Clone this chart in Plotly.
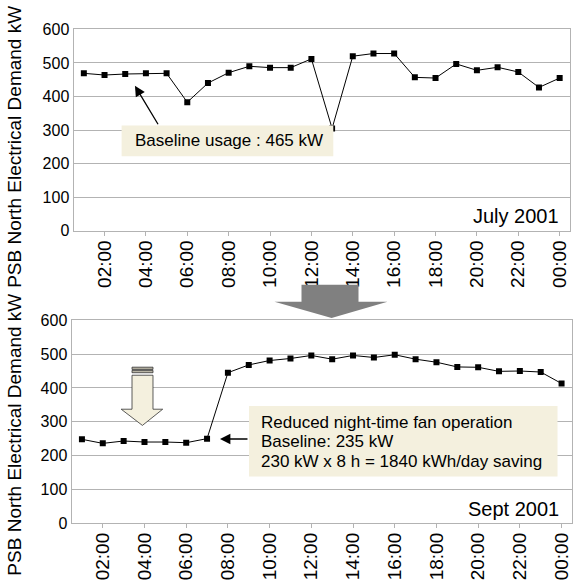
import plotly.graph_objects as go

W, H = 576, 581

hours = list(range(1, 25))
tick_vals = list(range(2, 25, 2))
tick_text = ["02:00", "04:00", "06:00", "08:00", "10:00", "12:00",
             "14:00", "16:00", "18:00", "20:00", "22:00", "00:00"]
july_kw = [469, 464, 467, 469, 469, 383, 440, 471, 490, 486, 486, 512,
           305, 520, 528, 528, 457, 455, 497, 478, 487, 473, 427, 455]
sept_kw = [248, 236, 243, 240, 240, 238, 250, 445, 468, 481, 487, 496,
           485, 496, 490, 498, 485, 476, 462, 461, 449, 450, 447, 413]
y_title = "PSB North Electrical Demand kW"


def px(x):
    return x / W


def py(y):
    return 1 - y / H


FONT = "Liberation Sans, Arial, sans-serif"
GRID = "#b3b3b3"
BEIGE = "#f4f0de"

fig = go.Figure()
fig.add_trace(go.Scatter(x=hours, y=july_kw, mode="lines+markers",
                         line=dict(color="black", width=1),
                         marker=dict(symbol="square", size=6, color="black"),
                         xaxis="x", yaxis="y", showlegend=False))
fig.add_trace(go.Scatter(x=hours, y=sept_kw, mode="lines+markers",
                         line=dict(color="black", width=1),
                         marker=dict(symbol="square", size=6, color="black"),
                         xaxis="x2", yaxis="y2", showlegend=False))

xcommon = dict(range=[0.5, 24.5], tickvals=tick_vals, ticktext=tick_text,
               tickangle=-90, ticks="outside", ticklen=4, tickcolor=GRID,
               ticklabelstandoff=-3,
               showgrid=False, showline=True, linecolor=GRID, mirror=True,
               zeroline=False, tickfont=dict(family=FONT, size=19, color="black"))
ycommon = dict(range=[0, 600], dtick=100, showgrid=True, gridcolor=GRID,
               showline=True, linecolor=GRID, mirror=True, zeroline=False,
               ticks="", tickfont=dict(family=FONT, size=16, color="black"))

fig.update_layout(
    width=W, height=H,
    margin=dict(l=0, r=0, t=0, b=0),
    paper_bgcolor="white", plot_bgcolor="white",
    xaxis=dict(domain=[px(73.5), px(570)], anchor="y", **xcommon),
    yaxis=dict(domain=[py(229.5), py(22)], anchor="x", **ycommon),
    xaxis2=dict(domain=[px(71.5), px(572)], anchor="y2", **xcommon),
    yaxis2=dict(domain=[py(530.7), py(321.7)], anchor="x2", **ycommon),
)

shapes = []
# annotation boxes
shapes.append(dict(type="rect", xref="paper", yref="paper", layer="above",
                   x0=px(121.6), x1=px(333.3), y0=py(152.7), y1=py(121),
                   fillcolor=BEIGE, line=dict(width=0)))
shapes.append(dict(type="rect", xref="paper", yref="paper", layer="above",
                   x0=px(249), x1=px(557.5), y0=py(482.7), y1=py(410),
                   fillcolor=BEIGE, line=dict(width=0)))


def path(points):
    s = "M " + " L ".join(f"{px(a):.5f},{py(b):.5f}" for a, b in points) + " Z"
    return s


# big gray arrow between charts
shapes.append(dict(type="path", xref="paper", yref="paper", layer="above",
                   path=path([(301.5, 285), (358.5, 285), (358.5, 302.7),
                              (387.5, 302.7), (331.6, 319.3), (274.5, 302.7),
                              (301.5, 302.7)]),
                   fillcolor="#808080", line=dict(width=0)))
# beige down arrow
for (a, b) in [(370, 372.3), (373.3, 375.7)]:
    shapes.append(dict(type="rect", xref="paper", yref="paper", layer="above",
                       x0=px(132), x1=px(153), y0=py(b), y1=py(a),
                       fillcolor="#b8b4a4", line=dict(width=0.8, color="#333333")))
shapes.append(dict(type="path", xref="paper", yref="paper", layer="above",
                   path=path([(132, 378.3), (153, 378.3), (153, 413.3),
                              (162.7, 413.3), (142.4, 430), (121.2, 413.3),
                              (132, 413.3)]),
                   fillcolor=BEIGE, line=dict(width=0.8, color="#333333")))
fig.update_layout(shapes=shapes)

ann = []
ann.append(dict(text=y_title, xref="paper", yref="paper", x=px(14.5), y=py(143.5),
                textangle=-90, showarrow=False, xanchor="center", yanchor="middle",
                font=dict(family=FONT, size=19, color="black")))
ann.append(dict(text=y_title, xref="paper", yref="paper", x=px(14.5), y=py(440),
                textangle=-90, showarrow=False, xanchor="center", yanchor="middle",
                font=dict(family=FONT, size=19, color="black")))
ann.append(dict(text="July 2001", xref="paper", yref="paper", x=px(561), y=py(214),
                showarrow=False, xanchor="right", yanchor="middle",
                font=dict(family=FONT, size=20, color="black")))
ann.append(dict(text="Sept 2001", xref="paper", yref="paper", x=px(561), y=py(516),
                showarrow=False, xanchor="right", yanchor="middle",
                font=dict(family=FONT, size=20, color="black")))
ann.append(dict(text="Baseline usage : 465 kW", xref="paper", yref="paper",
                x=px(132.5), y=py(137), showarrow=False, xanchor="left",
                yanchor="middle", font=dict(family=FONT, size=17, color="black")))
for txt, yy in [("Reduced night-time fan operation", 426.7),
                ("Baseline: 235 kW", 446.5),
                ("230 kW x 8 h = 1840 kWh/day saving", 466.7)]:
    ann.append(dict(text=txt, xref="paper", yref="paper", x=px(259.3), y=py(yy),
                    showarrow=False, xanchor="left", yanchor="middle",
                    font=dict(family=FONT, size=17, color="black")))
# arrows
ann.append(dict(text="", xref="x", yref="y", x=3.47, y=432, ax=24, ay=40,
                showarrow=True, arrowhead=2, arrowsize=1.6, arrowwidth=1.3,
                arrowcolor="black", standoff=0))
ann.append(dict(text="", xref="x2", yref="y2", x=7.62, y=249, ax=29, ay=0,
                showarrow=True, arrowhead=2, arrowsize=1.6, arrowwidth=1.3,
                arrowcolor="black", standoff=0))
fig.update_layout(annotations=ann)

fig.write_html("out.html", config={"displayModeBar": False},
               post_script="document.body.style.margin='0';document.body.style.overflow='hidden';")
